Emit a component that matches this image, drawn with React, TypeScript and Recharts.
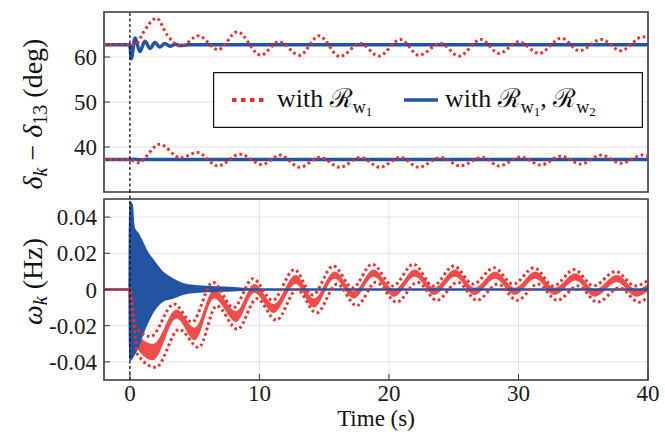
import React from 'react';
import {
  LineChart,
  ComposedChart,
  Line,
  Area,
  XAxis,
  YAxis,
  CartesianGrid,
  ReferenceArea,
  ReferenceLine,
  Legend,
} from 'recharts';

const RED = '#ec2d2a';
const BLUE = '#2354a4';
const FONT = 'Liberation Serif, Times New Roman, Times, serif';

// ---------- axes ----------
const xTicks = [0, 10, 20, 30, 40];
const topYTicks = [40, 50, 60];
const botYTicks = [-0.04, -0.02, 0, 0.02, 0.04];

// ---------- top panel: delta_k - delta_13 (deg) ----------
const topBlueHighT = [-2, 0, 0.1, 0.4, 0.77, 1.16, 1.55, 1.93, 2.3, 2.7, 3.1, 3.5, 3.9, 4.5, 10, 20, 30, 40];
const topBlueHighV = [62.7, 62.7, 59.6, 64.2, 61.2, 63.5, 61.9, 63.2, 62.2, 63.0, 62.4, 62.85, 62.55, 62.7, 62.7, 62.7, 62.7, 62.7];

const topBlueLowT = [-2, 0, 0.3, 0.8, 1.5, 3, 10, 20, 30, 40];
const topBlueLowV = [37.2, 37.2, 37.3, 37.15, 37.25, 37.2, 37.2, 37.2, 37.2, 37.2];

const topRedHighT = [-2, 0, 0.5, 1.0, 2.05, 2.9, 3.9, 5.3, 6.8, 8.3, 10.1, 11.5, 13.1, 14.6, 16.2, 17.8, 19.2, 20.9, 22.3, 24.0, 25.4, 27.1, 28.5, 30.0, 31.6, 33.3, 34.7, 36.4, 37.9, 39.6, 40];
const topRedHighV = [62.7, 62.7, 62.9, 65.3, 68.6, 64.8, 62.4, 64.7, 61.6, 65.6, 60.4, 63.4, 60.4, 64.7, 60.1, 63.0, 60.2, 63.9, 60.4, 63.0, 60.2, 63.9, 60.8, 63.4, 60.8, 64.2, 61.4, 63.9, 61.4, 64.5, 64.3];

const topRedLowT = [-2, 0, 0.6, 2.3, 3.9, 5.2, 6.8, 8.5, 10.2, 11.6, 13.1, 14.7, 16.2, 17.8, 19.3, 20.9, 22.3, 24.0, 25.5, 27.2, 28.5, 30.2, 31.7, 33.3, 34.8, 36.4, 37.9, 39.6, 40];
const topRedLowV = [37.2, 37.2, 36.5, 40.6, 37.6, 38.8, 35.8, 38.4, 36.1, 38.2, 35.5, 37.7, 35.5, 37.7, 35.5, 37.7, 35.5, 37.7, 35.8, 37.7, 35.8, 37.8, 36.0, 38.0, 36.2, 38.2, 36.4, 38.2, 38.0];

// ---------- bottom panel: omega_k (Hz) ----------
const blueBotT = [-2, -0.05, 0, 0.15, 0.3, 0.6, 0.9, 1.3, 1.8, 2.6, 3.1, 4.4, 6, 8, 10, 20, 30, 40];
const blueBotLo = [0, 0, -0.039, -0.038, -0.036, -0.032, -0.026, -0.019, -0.012, -0.006, -0.005, -0.002, -0.001, -0.0005, 0, 0, 0, 0];
const blueBotHi = [0, 0, 0.048, 0.047, 0.034, 0.031, 0.027, 0.021, 0.016, 0.009, 0.0066, 0.0025, 0.0015, 0.0008, 0, 0, 0, 0];

const redBotT = [-2, 0, 0.5, 1.8, 3.6, 5.0, 6.5, 8.2, 9.6, 11.1, 12.8, 14.2, 15.8, 17.3, 18.8, 20.4, 22.0, 23.5, 25.1, 26.6, 28.2, 29.7, 31.3, 32.8, 34.4, 35.9, 37.6, 39.1, 40];
const redBotCoreHi = [0, 0, -0.024, -0.030, -0.011, -0.021, 0.000, -0.012, 0.003, -0.008, 0.008, -0.005, 0.010, -0.001, 0.011, 0.000, 0.011, 0.001, 0.011, 0.001, 0.010, 0.001, 0.010, 0.001, 0.009, 0.000, 0.008, 0.000, 0.003];
const redBotCoreLo = [0, 0, -0.032, -0.039, -0.016, -0.028, -0.005, -0.018, -0.002, -0.013, 0.003, -0.010, 0.006, -0.005, 0.007, -0.004, 0.007, -0.003, 0.007, -0.003, 0.006, -0.003, 0.006, -0.003, 0.005, -0.004, 0.004, -0.004, -0.001];

const redBotUpperT = [-2, 0, 0.4, 1.6, 3.4, 4.8, 6.4, 8.0, 9.5, 11.0, 12.7, 14.1, 15.7, 17.2, 18.7, 20.3, 21.9, 23.4, 25.0, 26.5, 28.1, 29.6, 31.2, 32.7, 34.3, 35.8, 37.5, 39.0, 40];
const redBotUpperV = [0, 0, -0.02, -0.026, -0.008, -0.018, 0.004, -0.010, 0.006, -0.006, 0.011, -0.003, 0.013, 0.001, 0.014, 0.002, 0.014, 0.002, 0.013, 0.003, 0.012, 0.003, 0.012, 0.002, 0.011, 0.002, 0.010, 0.002, 0.005];

const redBotLowerT = [-2, 0, 0.6, 2.0, 3.8, 5.3, 6.7, 8.3, 9.8, 11.3, 12.9, 14.4, 16.0, 17.5, 19.0, 20.6, 22.2, 23.7, 25.3, 26.8, 28.4, 29.9, 31.5, 33.0, 34.6, 36.1, 37.8, 39.3, 40];
const redBotLowerV = [0, 0, -0.036, -0.043, -0.022, -0.032, -0.009, -0.022, -0.005, -0.017, 0.000, -0.013, 0.003, -0.009, 0.004, -0.007, 0.004, -0.006, 0.004, -0.006, 0.003, -0.006, 0.003, -0.006, 0.002, -0.007, 0.001, -0.007, -0.004];

const zip = (ts: number[], vs: number[]) => ts.map((t, i) => ({ t, v: vs[i] }));
const zipRange = (ts: number[], lo: number[], hi: number[]) =>
  ts.map((t, i) => ({ t, r: [lo[i], hi[i]] }));

const topBlueHigh = zip(topBlueHighT, topBlueHighV);
const topBlueLow = zip(topBlueLowT, topBlueLowV);
const topRedHigh = zip(topRedHighT, topRedHighV);
const topRedLow = zip(topRedLowT, topRedLowV);
const blueBand = zipRange(blueBotT, blueBotLo, blueBotHi);
const redBand = zipRange(redBotT, redBotCoreLo, redBotCoreHi);
const redUpper = zip(redBotUpperT, redBotUpperV);
const redLower = zip(redBotLowerT, redBotLowerV);

const tickStyle = { fontSize: 23, fill: '#1a1a1a', fontFamily: FONT };
const FRAME = '#3a3a3a';
const GRID = '#e2e2e2';

const LegendBox = () => (
  <svg width={430} height={56} style={{ display: 'block' }}>
    <rect x={0.6} y={0.6} width={428.8} height={54.8} fill="#fff" stroke="#111" strokeWidth={1.2} />
    <line x1={19} x2={54} y1={28} y2={28} stroke={RED} strokeWidth={4} strokeDasharray="4.5 4.5" />
    <text x={64} y={35} fontFamily={FONT} fontSize={26} fill="#111">
      with <tspan>ℛ</tspan>
      <tspan fontSize={18} dy={6}>w</tspan>
      <tspan fontSize={13} dy={3}>1</tspan>
    </text>
    <line x1={191} x2={225} y1={28} y2={28} stroke={BLUE} strokeWidth={3.5} />
    <text x={232} y={35} fontFamily={FONT} fontSize={26} fill="#111">
      with <tspan>ℛ</tspan>
      <tspan fontSize={18} dy={6}>w</tspan>
      <tspan fontSize={13} dy={3}>1</tspan>
      <tspan dy={-9}>, </tspan>
      <tspan>ℛ</tspan>
      <tspan fontSize={18} dy={6}>w</tspan>
      <tspan fontSize={13} dy={3}>2</tspan>
    </text>
  </svg>
);

const TopYLabel = (props: any) => {
  const vb = props.viewBox || { x: 0, y: 12, width: 104, height: 180 };
  const cx = vb.x + 42;
  const cy = vb.y + vb.height / 2 + 12;
  return (
    <text transform={`translate(${cx},${cy}) rotate(-90)`} textAnchor="middle" fontFamily={FONT} fontSize={28} fill="#111">
      <tspan fontStyle="italic">δ</tspan>
      <tspan fontStyle="italic" fontSize={20} dy={5}>k</tspan>
      <tspan dy={-5}> − </tspan>
      <tspan fontStyle="italic">δ</tspan>
      <tspan fontSize={20} dy={5}>13</tspan>
      <tspan dy={-5}> (deg)</tspan>
    </text>
  );
};

const BotYLabel = (props: any) => {
  const vb = props.viewBox || { x: 0, y: 199, width: 104, height: 181 };
  const cx = vb.x + 42;
  const cy = vb.y + vb.height / 2 - 8;
  return (
    <text transform={`translate(${cx},${cy}) rotate(-90)`} textAnchor="middle" fontFamily={FONT} fontSize={28} fill="#111">
      <tspan fontStyle="italic">ω</tspan>
      <tspan fontStyle="italic" fontSize={20} dy={5}>k</tspan>
      <tspan dy={-5}> (Hz)</tspan>
    </text>
  );
};

const botFmt = (v: number) => (v === 0 ? '0' : v.toFixed(2));

export default function App() {
  return (
    <div style={{ position: 'absolute', left: 0, top: 0, width: 665, height: 435, background: '#fff', fontFamily: FONT }}>
      <div style={{ position: 'absolute', left: 0, top: 0 }}>
        <LineChart width={665} height={196} margin={{ top: 12, right: 17, bottom: 4, left: 0 }}>
          <CartesianGrid stroke={GRID} strokeWidth={1} />
          <XAxis
            dataKey="t"
            type="number"
            domain={[-2, 40]}
            ticks={xTicks}
            height={0}
            tick={false}
            axisLine={false}
            tickSize={-6}
            tickLine={{ stroke: FRAME }}
            allowDataOverflow
          />
          <YAxis
            type="number"
            domain={[30, 70]}
            ticks={topYTicks}
            width={104}
            tick={tickStyle}
            axisLine={false}
            tickSize={-6}
            tickMargin={13}
            tickLine={{ stroke: FRAME }}
            label={<TopYLabel />}
            allowDataOverflow
          />
          <Line data={topBlueHigh} dataKey="v" type="monotone" stroke={BLUE} strokeWidth={3.5} dot={false} isAnimationActive={false} />
          <Line data={topBlueLow} dataKey="v" type="monotone" stroke={BLUE} strokeWidth={3.5} dot={false} isAnimationActive={false} />
          <Line data={topRedHigh} dataKey="v" type="monotone" stroke={RED} strokeWidth={3} strokeDasharray="2.6 3" dot={false} isAnimationActive={false} />
          <Line data={topRedLow} dataKey="v" type="monotone" stroke={RED} strokeWidth={3} strokeDasharray="2.6 3" dot={false} isAnimationActive={false} />
          <ReferenceLine segment={[{ x: 0, y: 30 }, { x: 0, y: 70 }]} stroke="#111" strokeWidth={1.3} strokeDasharray="3 2.5" ifOverflow="visible" />
          <ReferenceArea x1={-2} x2={40} y1={30} y2={70} fill="none" fillOpacity={0} stroke={FRAME} strokeWidth={1.6} ifOverflow="visible" />
          <Legend
            layout="horizontal"
            verticalAlign="middle"
            align="center"
            content={() => <LegendBox />}
            wrapperStyle={{ position: 'absolute', left: 213, top: 72, width: 430, height: 56 }}
          />
        </LineChart>
      </div>
      <div style={{ position: 'absolute', left: 0, top: 192 }}>
        <ComposedChart width={665} height={243} margin={{ top: 7, right: 17, bottom: 0, left: 0 }}>
          <CartesianGrid stroke={GRID} strokeWidth={1} />
          <XAxis
            dataKey="t"
            type="number"
            domain={[-2, 40]}
            ticks={xTicks}
            height={55}
            tick={tickStyle}
            axisLine={false}
            tickSize={-6}
            tickMargin={11}
            tickLine={{ stroke: FRAME }}
            allowDataOverflow
            label={{ value: 'Time (s)', position: 'insideBottom', offset: 9, style: { fontSize: 23, fontFamily: FONT, fill: '#111' } }}
          />
          <YAxis
            type="number"
            domain={[-0.05, 0.05]}
            ticks={botYTicks}
            tickFormatter={botFmt}
            width={104}
            tick={tickStyle}
            axisLine={false}
            tickSize={-6}
            tickMargin={13}
            tickLine={{ stroke: FRAME }}
            label={<BotYLabel />}
            allowDataOverflow
          />
          <Area data={redBand} dataKey="r" type="monotone" stroke="none" fill={RED} fillOpacity={0.85} isAnimationActive={false} />
          <Line data={redUpper} dataKey="v" type="monotone" stroke={RED} strokeWidth={3} strokeDasharray="2.6 3" dot={false} isAnimationActive={false} />
          <Line data={redLower} dataKey="v" type="monotone" stroke={RED} strokeWidth={3} strokeDasharray="2.6 3" dot={false} isAnimationActive={false} />
          <Area data={blueBand} dataKey="r" type="monotone" stroke={BLUE} strokeWidth={2} fill={BLUE} fillOpacity={1} isAnimationActive={false} />
          <ReferenceLine segment={[{ x: 0, y: -0.05 }, { x: 0, y: 0.0545 }]} stroke="#111" strokeWidth={1.3} strokeDasharray="3 2.5" ifOverflow="visible" />
          <ReferenceArea x1={-2} x2={40} y1={-0.05} y2={0.05} fill="none" fillOpacity={0} stroke={FRAME} strokeWidth={1.6} ifOverflow="visible" />
        </ComposedChart>
      </div>
    </div>
  );
}
